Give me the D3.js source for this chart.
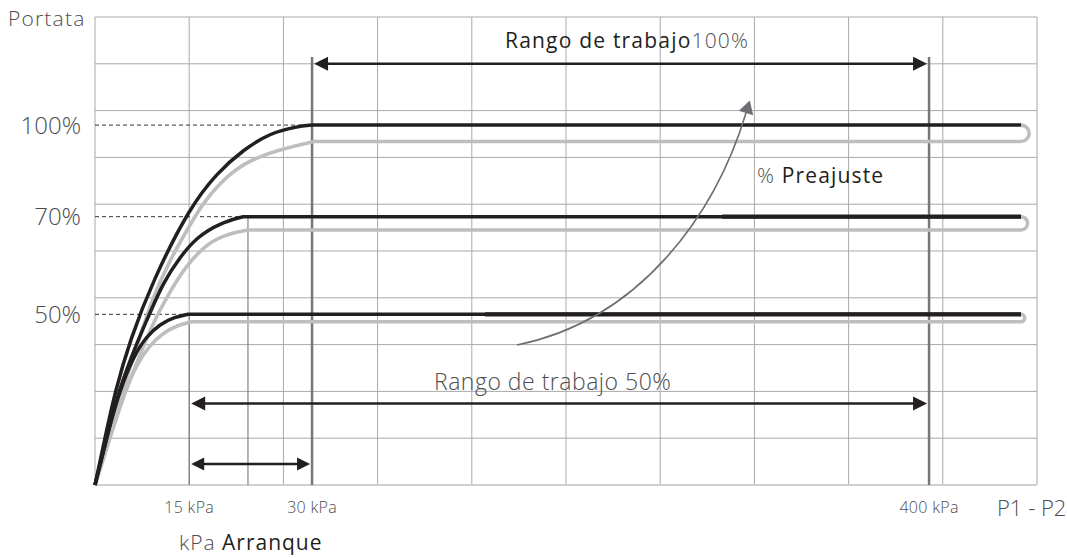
<!DOCTYPE html>
<html>
<head>
<meta charset="utf-8">
<script src="https://cdn.jsdelivr.net/npm/d3@7"></script>
<style>
  html, body { margin: 0; padding: 0; background: #fff; }
  svg { display: block; font-family: "Open Sans", "Noto Sans", sans-serif; }
</style>
</head>
<body>
<div id="chart"></div>
<script>
// ---------- data (chart units: x = grid columns, y = grid rows) ----------
const gridCols = d3.range(0, 11);
const gridRows = d3.range(0, 11);

const levelLabels = ["50%", "70%", "100%"];
const levelBlackY = [3.647, 5.733, 7.69];
const levelGrayY  = [3.489, 5.449, 7.34];
const lineEndX = 9.83;
const thickFromX = [4.14, 6.656, null];

const black50  = [[0,0],[0.096,0.791],[0.191,1.538],[0.297,2.201],[0.414,2.756],[0.541,3.162],[0.690,3.440],[0.849,3.590],[0.987,3.647]];
const gray50   = [[0,0],[0.117,0.748],[0.223,1.474],[0.329,2.051],[0.446,2.585],[0.573,2.970],[0.722,3.248],[0.881,3.419],[1.030,3.489]];
const black70  = [[0,0],[0.127,1.004],[0.244,1.987],[0.456,3.098],[0.584,3.675],[0.722,4.316],[0.902,4.872],[1.083,5.299],[1.327,5.598],[1.571,5.733]];
const gray70   = [[0,0],[0.159,1.004],[0.318,1.987],[0.478,2.778],[0.616,3.462],[0.764,4.017],[0.934,4.594],[1.146,5.085],[1.359,5.342],[1.624,5.449]];
const black100 = [[0,0],[0.106,1.004],[0.212,1.987],[0.372,3.098],[0.616,4.380],[1.008,5.940],[1.295,6.667],[1.571,7.158],[1.858,7.521],[2.144,7.660],[2.304,7.69]];
const gray100  = [[0,0],[0.138,1.004],[0.287,1.987],[0.510,3.376],[0.616,4.017],[0.796,4.808],[0.977,5.449],[1.146,6.026],[1.327,6.453],[1.571,6.880],[1.932,7.158],[2.325,7.34]];

const pressureLabels = ["15 kPa", "30 kPa", "400 kPa"];
const pressureX = [1.0, 2.304, 8.854];
const kneeDrop70X = 1.624;
const markerTopY = 9.145;

// start, control 1, control 2, end of the "% Preajuste" arrow
const presetArrow = [[4.480, 2.991], [5.786, 3.526], [6.582, 5.769], [6.911, 7.949]];

// ---------- layout ----------
const W = 1067, H = 558;
const x = d3.scaleLinear().domain([0, 10]).range([95, 1037]);
const y = d3.scaleLinear().domain([0, 10]).range([485, 17]);

const svg = d3.select("#chart").append("svg").attr("width", W).attr("height", H);

// grid
const grid = svg.append("g");
grid.selectAll("line.v").data(gridCols).join("line")
  .attr("x1", d => x(d)).attr("x2", d => x(d))
  .attr("y1", y(0)).attr("y2", y(10))
  .attr("stroke", "#a9a9a9").attr("stroke-width", 1);
grid.selectAll("line.h").data(gridRows.filter(d => d > 0)).join("line")
  .attr("x1", x(0)).attr("x2", x(10))
  .attr("y1", d => y(d)).attr("y2", d => y(d))
  .attr("stroke", "#a9a9a9").attr("stroke-width", 1);
grid.append("line")
  .attr("x1", x(0)).attr("x2", x(10)).attr("y1", y(0)).attr("y2", y(0))
  .attr("stroke", "#d0d0d0").attr("stroke-width", 2);

// knee drop lines
svg.append("line").attr("x1", x(pressureX[0])).attr("x2", x(pressureX[0]))
  .attr("y1", y(levelBlackY[0])).attr("y2", y(0)).attr("stroke", "#6d6d6d").attr("stroke-width", 1);
svg.append("line").attr("x1", x(kneeDrop70X)).attr("x2", x(kneeDrop70X))
  .attr("y1", y(levelBlackY[1])).attr("y2", y(0)).attr("stroke", "#6d6d6d").attr("stroke-width", 1);
[pressureX[1], pressureX[2]].forEach(px => {
  svg.append("line").attr("x1", x(px)).attr("x2", x(px))
    .attr("y1", y(markerTopY)).attr("y2", y(0))
    .attr("stroke", "#77777a").attr("stroke-width", 2.5);
});

// dashed level guides
const kneesX = [black50, black70, black100].map(c => c[c.length - 1][0]);
svg.selectAll("line.dash").data(levelBlackY).join("line")
  .attr("x1", x(0)).attr("x2", (d, i) => x(kneesX[i]) - 4)
  .attr("y1", d => y(d)).attr("y2", d => y(d))
  .attr("stroke", "#333").attr("stroke-width", 1).attr("stroke-dasharray", "4,3");

// curves
const curve = d3.line().x(d => x(d[0])).y(d => y(d[1])).curve(d3.curveBasis);
const grays = [gray50, gray70, gray100];
const blacks = [black50, black70, black100];

grays.forEach((c, i) => {
  const r = (y(levelGrayY[i]) - y(levelBlackY[i])) / 2;
  const d = curve(c) + ` L${x(lineEndX)},${y(levelGrayY[i])}` +
    ` A ${r} ${r} 0 0 0 ${x(lineEndX)} ${y(levelBlackY[i])}`;
  svg.append("path").attr("d", d).attr("fill", "none")
    .attr("stroke", "#bdbec0").attr("stroke-width", 3.6).attr("stroke-linejoin", "round");
});
blacks.forEach((c, i) => {
  const d = curve(c) + ` L${x(lineEndX)},${y(levelBlackY[i])}`;
  svg.append("path").attr("d", d).attr("fill", "none")
    .attr("stroke", "#231f20").attr("stroke-width", 3.5);
  if (thickFromX[i] != null) {
    svg.append("line").attr("x1", x(thickFromX[i])).attr("x2", x(lineEndX))
      .attr("y1", y(levelBlackY[i])).attr("y2", y(levelBlackY[i]))
      .attr("stroke", "#231f20").attr("stroke-width", 4.3);
  }
});

// double arrows
function arrowHead(tipX, tipY, dir, len, half, color) {
  svg.append("path")
    .attr("d", `M${tipX},${tipY} L${tipX - dir * len},${tipY - half} L${tipX - dir * len},${tipY + half} Z`)
    .attr("fill", color);
}
function doubleArrow(x0, x1, yv, len, half) {
  const a = x(x0) + 2, b = x(x1) - 2, yy = y(yv);
  svg.append("line").attr("x1", a + len - 1).attr("x2", b - len + 1).attr("y1", yy).attr("y2", yy)
    .attr("stroke", "#231f20").attr("stroke-width", 2.6);
  arrowHead(a, yy, -1, len, half, "#231f20");
  arrowHead(b, yy, 1, len, half, "#231f20");
}
doubleArrow(pressureX[1], pressureX[2], 9.0, 14, 7);
doubleArrow(pressureX[0], pressureX[2], 1.74, 14, 7);
doubleArrow(pressureX[0], pressureX[1], 0.45, 13, 6.5);

// preset curved arrow
{
  const [p0, c1, c2, p3] = presetArrow;
  const p = d3.path();
  p.moveTo(x(p0[0]), y(p0[1]));
  p.bezierCurveTo(x(c1[0]), y(c1[1]), x(c2[0]), y(c2[1]), x(p3[0]), y(p3[1]));
  svg.append("path").attr("d", p.toString())
    .attr("fill", "none").attr("stroke", "#6d6e71").attr("stroke-width", 1.6);
  const dx = x(p3[0]) - x(c2[0]), dy = y(p3[1]) - y(c2[1]);
  const L = Math.hypot(dx, dy), ux = dx / L, uy = dy / L;
  const bx = x(p3[0]), by = y(p3[1]);
  const len = 13, half = 7.5;
  const tx = bx + ux * len, ty = by + uy * len;
  svg.append("path")
    .attr("d", `M${tx},${ty} L${bx - uy * half},${by + ux * half} L${bx + uy * half},${by - ux * half} Z`)
    .attr("fill", "#6d6e71");
}

// ---------- texts ----------
const light = "#4d4d4f", dark = "#231f20";
svg.append("text").attr("x", 8).attr("y", 26).attr("font-size", 21).attr("font-weight", 300)
  .attr("letter-spacing", 1.2).attr("fill", light).text("Portata");

svg.selectAll("text.lvl").data(levelLabels).join("text")
  .attr("x", 81).attr("y", (d, i) => y(levelBlackY[i]) + 8.5)
  .attr("text-anchor", "end").attr("font-size", 24).attr("font-weight", 300)
  .attr("fill", light).text(d => d);

svg.selectAll("text.kpa").data(pressureLabels).join("text")
  .attr("x", (d, i) => x(pressureX[i])).attr("y", 513)
  .attr("text-anchor", "middle").attr("font-size", 16).attr("font-weight", 300)
  .attr("letter-spacing", 0.3).attr("fill", light).text(d => d);

svg.append("text").attr("x", 997).attr("y", 516).attr("font-size", 22).attr("font-weight", 300)
  .attr("fill", light).text("P1 - P2");

const t1 = svg.append("text").attr("x", 505).attr("y", 48).attr("font-size", 21).attr("letter-spacing", 1.2);
t1.append("tspan").attr("fill", dark).attr("font-weight", 400).text("Rango de trabajo");
t1.append("tspan").attr("fill", light).attr("font-weight", 300).text("100%");

const t2 = svg.append("text").attr("x", 757).attr("y", 183).attr("font-size", 21).attr("letter-spacing", 1.15);
t2.append("tspan").attr("fill", light).attr("font-weight", 300).text("%");
t2.append("tspan").attr("fill", dark).attr("font-weight", 400).text(" Preajuste");

svg.append("text").attr("x", 434).attr("y", 390).attr("font-size", 23).attr("font-weight", 300)
  .attr("letter-spacing", 0.5).attr("fill", light).text("Rango de trabajo 50%");

const t3 = svg.append("text").attr("x", 179).attr("y", 550).attr("font-size", 21).attr("letter-spacing", 1.0);
t3.append("tspan").attr("fill", light).attr("font-weight", 300).text("kPa ");
t3.append("tspan").attr("fill", dark).attr("font-weight", 400).text("Arranque");
</script>
</body>
</html>
